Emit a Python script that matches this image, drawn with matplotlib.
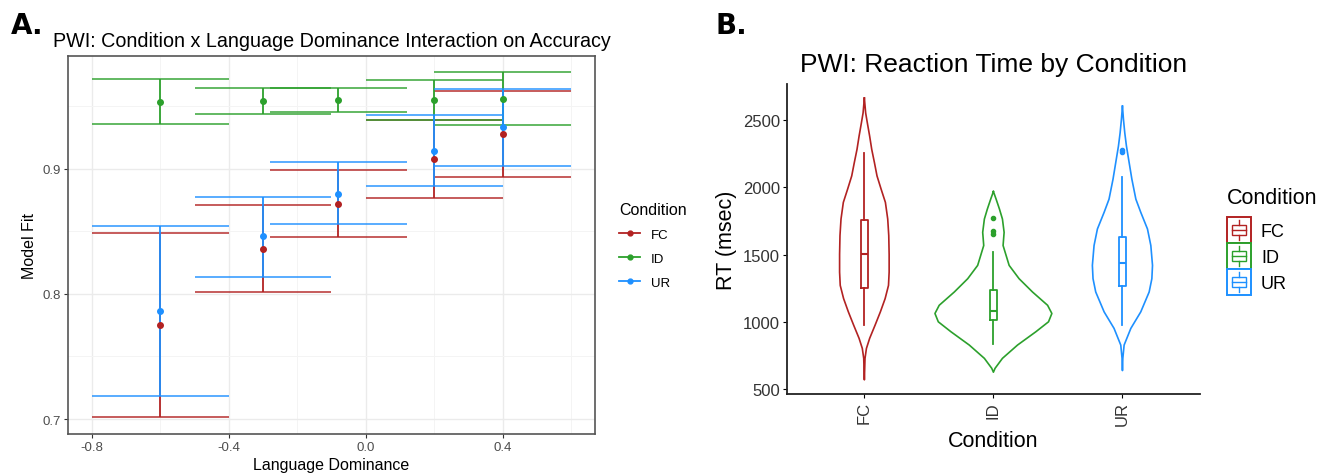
import numpy as np
import matplotlib
matplotlib.use("Agg")
import matplotlib.pyplot as plt
from matplotlib.lines import Line2D
from matplotlib.patches import Patch, Rectangle
from matplotlib.legend_handler import HandlerBase

plt.rcParams['font.family'] = ['Liberation Sans', 'DejaVu Sans']

conditions = ["FC", "ID", "UR"]
colors = {"FC": "#B22222", "ID": "#2CA02C", "UR": "#1E90FF"}

# ---- panel A: model fit by language dominance (mean, lower, upper)
dominance = [-0.6, -0.3, -0.08, 0.2, 0.4]
fit_mean = {
    "FC": [0.775, 0.836, 0.872, 0.908, 0.928],
    "ID": [0.9535, 0.954, 0.9545, 0.955, 0.9556],
    "UR": [0.786, 0.846, 0.880, 0.914, 0.933],
}
fit_lower = {
    "FC": [0.7016, 0.8013, 0.8452, 0.8763, 0.8934],
    "ID": [0.9354, 0.9436, 0.9452, 0.939, 0.9346],
    "UR": [0.7181, 0.8138, 0.8559, 0.8862, 0.9024],
}
fit_upper = {
    "FC": [0.8487, 0.8713, 0.899, 0.939, 0.9617],
    "ID": [0.9718, 0.9646, 0.9646, 0.9707, 0.9771],
    "UR": [0.8543, 0.8777, 0.905, 0.9426, 0.9638],
}
bar_width = 0.4

# ---- panel B: violin outlines (RT value, half width) and box stats
violin_rt = {
    "FC": [2665, 2554, 2480, 2381, 2283, 2184, 2085, 1986, 1888, 1764, 1641, 1500,
           1369, 1270, 1172, 1073, 974, 876, 801, 727, 567],
    "ID": [1969, 1912, 1838, 1764, 1665, 1567, 1419, 1320, 1221, 1122, 1061, 999,
           925, 826, 727, 653, 624],
    "UR": [2604, 2505, 2406, 2307, 2184, 2061, 1912, 1814, 1690, 1567, 1419, 1320,
           1221, 1073, 950, 826, 727, 636],
}
violin_hw = {
    "FC": [0, 0.010, 0.023, 0.041, 0.057, 0.078, 0.098, 0.130, 0.163, 0.181, 0.189, 0.192,
           0.192, 0.187, 0.161, 0.124, 0.083, 0.041, 0.016, 0.005, 0],
    "ID": [0, 0.021, 0.047, 0.070, 0.083, 0.075, 0.122, 0.199, 0.303, 0.420, 0.453, 0.427,
           0.329, 0.187, 0.070, 0.013, 0],
    "UR": [0, 0.008, 0.018, 0.031, 0.052, 0.073, 0.104, 0.142, 0.194, 0.220, 0.233, 0.228,
           0.207, 0.142, 0.065, 0.013, 0.003, 0],
}
box_q1 = [1251, 1009, 1263]
box_med = [1505, 1078, 1436]
box_q3 = [1757, 1236, 1633]
whisker_lo = [979, 831, 979]
whisker_hi = [2258, 1522, 2078]
outliers = [[], [1769, 1678, 1653], [2262, 2278]]


class BoxKeyHandler(HandlerBase):
    def create_artists(self, legend, orig_handle, xdescent, ydescent,
                       width, height, fontsize, trans):
        c = orig_handle.get_edgecolor()
        x0, y0 = -xdescent, -ydescent
        arts = [Rectangle((x0, y0), width, height, fc="white", ec=c, lw=1.4,
                          transform=trans)]
        bx0, bx1 = x0 + width * 0.2, x0 + width * 0.8
        by0, by1 = y0 + height * 0.3, y0 + height * 0.7
        arts.append(Rectangle((bx0, by0), bx1 - bx0, by1 - by0, fc="none", ec=c,
                              lw=1.0, transform=trans))
        ym = y0 + height * 0.5
        xm = x0 + width * 0.5
        arts.append(Line2D([bx0, bx1], [ym, ym], color=c, lw=1.0, transform=trans))
        arts.append(Line2D([xm, xm], [y0 + height * 0.12, by0], color=c, lw=1.0, transform=trans))
        arts.append(Line2D([xm, xm], [by1, y0 + height * 0.88], color=c, lw=1.0, transform=trans))
        return arts


fig = plt.figure(figsize=(13.32, 4.77), dpi=100)

# ================= Panel A =================
ax = fig.add_axes([0.051, 0.088, 0.3957, 0.7925])
for k, cond in enumerate(conditions):
    c = colors[cond]
    x = np.array(dominance)
    ax.vlines(x, fit_lower[cond], fit_upper[cond], color=c, lw=1.3, zorder=3 + k)
    ax.hlines(fit_lower[cond], x - bar_width / 2, x + bar_width / 2, color=c, lw=1.3,
              alpha=0.8, zorder=3 + k)
    ax.hlines(fit_upper[cond], x - bar_width / 2, x + bar_width / 2, color=c, lw=1.3,
              alpha=0.8, zorder=3 + k)
    ax.plot(x, fit_mean[cond], "o", color=c, ms=4, zorder=6 + k)

ax.set_xlim(-0.87, 0.67)
ax.set_ylim(0.688, 0.99)
ax.set_xticks([-0.8, -0.4, 0.0, 0.4])
ax.set_xticklabels(["-0.8", "-0.4", "0.0", "0.4"])
ax.set_yticks([0.7, 0.8, 0.9])
ax.set_xticks([-0.6, -0.2, 0.2, 0.6], minor=True)
ax.set_yticks([0.75, 0.85, 0.95], minor=True)
ax.grid(which="major", color="#EBEBEB", lw=1.0, zorder=0)
ax.grid(which="minor", color="#F4F4F4", lw=0.7, zorder=0)
ax.set_axisbelow(True)
ax.tick_params(which="major", length=3, color="#333333", labelsize=9.5,
               labelcolor="#4D4D4D", pad=2)
ax.tick_params(which="minor", length=0)
for s in ax.spines.values():
    s.set_color("#555555")
    s.set_linewidth(1.2)
ax.set_xlabel("Language Dominance", fontsize=11.5, labelpad=3)
ax.set_ylabel("Model Fit", fontsize=11.5, labelpad=4)
ax.set_title("PWI: Condition x Language Dominance Interaction on Accuracy",
             fontsize=14.2, pad=7)

handles_a = [Line2D([], [], color=colors[c], lw=1.3, marker="o", ms=3.5) for c in conditions]
fig.legend(handles_a, conditions, title="Condition", loc="upper left",
           bbox_to_anchor=(0.456, 0.6), frameon=False, fontsize=9.5,
           title_fontsize=11.5, handlelength=1.6, labelspacing=0.9,
           alignment="left")

fig.text(0.008, 0.975, "A.", fontsize=20, fontweight="bold", va="top",
         family="DejaVu Sans")

# ================= Panel B =================
bx = fig.add_axes([0.5908, 0.172, 0.31, 0.65])
for i, cond in enumerate(conditions):
    c = colors[cond]
    pos = i + 1
    y = np.array(violin_rt[cond])
    hw = np.array(violin_hw[cond])
    bx.plot(np.concatenate([pos - hw, (pos + hw)[::-1]]),
            np.concatenate([y, y[::-1]]), color=c, lw=1.2)
    stats = [dict(med=box_med[i], q1=box_q1[i], q3=box_q3[i],
                  whislo=whisker_lo[i], whishi=whisker_hi[i], fliers=outliers[i])]
    bx.bxp(stats, positions=[pos], widths=0.05, showcaps=False,
           boxprops=dict(color=c, lw=1.3), medianprops=dict(color=c, lw=1.5),
           whiskerprops=dict(color=c, lw=1.3),
           flierprops=dict(marker="o", mfc=c, mec=c, ms=3))

bx.set_xlim(0.4, 3.6)
bx.set_ylim(462, 2770)
bx.set_xticks([1, 2, 3])
bx.set_xticklabels(conditions, rotation=90)
bx.set_yticks([500, 1000, 1500, 2000, 2500])
bx.set_yticklabels(["500", "1000", "1500", "2000", "2500"])
bx.spines["top"].set_visible(False)
bx.spines["right"].set_visible(False)
for s in ["left", "bottom"]:
    bx.spines[s].set_linewidth(1.3)
    bx.spines[s].set_color("#222222")
bx.tick_params(length=3, labelsize=12, labelcolor="#333333", pad=2)
bx.set_xlabel("Condition", fontsize=15.5, labelpad=4)
bx.set_ylabel("RT (msec)", fontsize=15.5, labelpad=4)
bx.set_title("PWI: Reaction Time by Condition", fontsize=19, pad=9)

handles_b = [Patch(edgecolor=colors[c], facecolor="white") for c in conditions]
fig.text(1227 / 1332, 1 - 199 / 477, "Condition", fontsize=15.5, va="center", ha="left")
fig.legend(handles_b, conditions, loc="upper left",
           bbox_to_anchor=(0.909, 0.577), frameon=False, fontsize=13,
           handlelength=1.33, handleheight=1.84,
           labelspacing=0.0, handletextpad=0.55,
           handler_map={Patch: BoxKeyHandler()})

fig.text(0.537, 0.975, "B.", fontsize=20, fontweight="bold", va="top",
         family="DejaVu Sans")

fig.savefig("out.png", dpi=100)
